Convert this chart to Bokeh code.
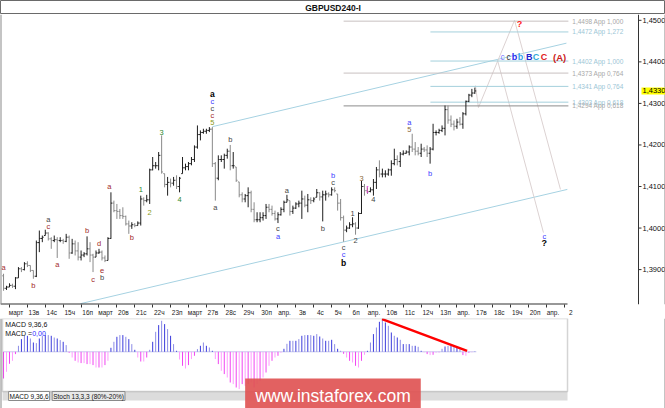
import numpy as np
from bokeh.plotting import figure
from bokeh.layouts import column
from bokeh.models import ColumnDataSource, Range1d, FixedTicker, Label, Span, BoxAnnotation
from bokeh.embed import file_html
from bokeh.resources import INLINE
from bokeh.core.properties import value

FONT = "Liberation Sans"

# ---------------- data ----------------
bar_index = list(range(-2, 157))
highs = [1.3890, 1.3861,
    1.3867, 1.3866, 1.3882, 1.3906, 1.3906, 1.3918, 1.3920, 1.3910, 1.3898, 1.3970,
    1.3994, 1.3982, 1.3996, 1.3990, 1.3978, 1.3982, 1.3978, 1.3978, 1.3974, 1.3986,
    1.3982, 1.3974, 1.3970, 1.3966, 1.3946, 1.3942, 1.3980, 1.3966, 1.3938, 1.3946,
    1.3950, 1.3946, 1.3934, 1.3978, 1.4086, 1.4066, 1.4058, 1.4046, 1.4050, 1.4030,
    1.4018, 1.4014, 1.4012, 1.4016, 1.4078, 1.4074, 1.4080, 1.4143, 1.4171, 1.4159,
    1.4183, 1.4223, 1.4131, 1.4123, 1.4119, 1.4123, 1.4127, 1.4123, 1.4171, 1.4155,
    1.4159, 1.4171, 1.4199, 1.4247, 1.4235, 1.4239, 1.4239, 1.4243, 1.4243, 1.4159,
    1.4175, 1.4175, 1.4179, 1.4191, 1.4200, 1.4183, 1.4147, 1.4111, 1.4086, 1.4082,
    1.4098, 1.4090, 1.4062, 1.4038, 1.4038, 1.4038, 1.4058, 1.4058, 1.4054, 1.4042,
    1.4038, 1.4050, 1.4066, 1.4080, 1.4066, 1.4054, 1.4062, 1.4066, 1.4090, 1.4078,
    1.4082, 1.4074, 1.4074, 1.4094, 1.4086, 1.4090, 1.4090, 1.4086, 1.4098, 1.4098,
    1.4082, 1.4070, 1.4030, 1.4006, 1.4014, 1.4026, 1.4014, 1.4038, 1.4114, 1.4106,
    1.4098, 1.4098, 1.4118, 1.4147, 1.4163, 1.4143, 1.4139, 1.4143, 1.4163, 1.4191,
    1.4175, 1.4183, 1.4187, 1.4187, 1.4199, 1.4227, 1.4207, 1.4195, 1.4203, 1.4195,
    1.4199, 1.4195, 1.4251, 1.4235, 1.4239, 1.4247, 1.4295, 1.4295, 1.4271, 1.4259,
    1.4263, 1.4267, 1.4279, 1.4307, 1.4323, 1.4335, 1.4338]
lows = [1.3849, 1.3851,
    1.3858, 1.3856, 1.3853, 1.3880, 1.3894, 1.3898, 1.3906, 1.3894, 1.3878, 1.3882,
    1.3942, 1.3966, 1.3982, 1.3970, 1.3950, 1.3966, 1.3928, 1.3966, 1.3962, 1.3966,
    1.3926, 1.3938, 1.3934, 1.3922, 1.3922, 1.3930, 1.3934, 1.3918, 1.3894, 1.3930,
    1.3938, 1.3922, 1.3918, 1.3922, 1.3974, 1.4038, 1.4022, 1.4022, 1.4022, 1.4006,
    1.3986, 1.3998, 1.4002, 1.4006, 1.4006, 1.4054, 1.4062, 1.4058, 1.4139, 1.4143,
    1.4139, 1.4131, 1.4098, 1.4078, 1.4098, 1.4102, 1.4094, 1.4086, 1.4131, 1.4139,
    1.4139, 1.4151, 1.4159, 1.4191, 1.4211, 1.4227, 1.4227, 1.4231, 1.4147, 1.4066,
    1.4115, 1.4159, 1.4143, 1.4167, 1.4139, 1.4143, 1.4111, 1.4074, 1.4062, 1.4062,
    1.4050, 1.4038, 1.4014, 1.4014, 1.4014, 1.4018, 1.4022, 1.4038, 1.4030, 1.4018,
    1.4012, 1.4030, 1.4038, 1.4062, 1.4030, 1.4034, 1.4046, 1.4050, 1.4022, 1.4050,
    1.4038, 1.4058, 1.4062, 1.4074, 1.4066, 1.4016, 1.4066, 1.4074, 1.4078, 1.4086,
    1.4042, 1.4018, 1.3967, 1.3990, 1.3998, 1.4002, 1.3984, 1.3998, 1.4034, 1.4078,
    1.4082, 1.4086, 1.4078, 1.4094, 1.4122, 1.4122, 1.4122, 1.4126, 1.4126, 1.4151,
    1.4151, 1.4147, 1.4175, 1.4179, 1.4175, 1.4183, 1.4175, 1.4175, 1.4171, 1.4183,
    1.4171, 1.4155, 1.4187, 1.4223, 1.4227, 1.4231, 1.4223, 1.4251, 1.4243, 1.4235,
    1.4239, 1.4247, 1.4239, 1.4271, 1.4303, 1.4315, 1.4323]
closes = [1.3855, 1.3858,
    1.3862, 1.3860, 1.3880, 1.3902, 1.3900, 1.3914, 1.3910, 1.3898, 1.3884, 1.3965,
    1.3975, 1.3978, 1.3988, 1.3974, 1.3970, 1.3972, 1.3970, 1.3970, 1.3968, 1.3978,
    1.3940, 1.3962, 1.3945, 1.3930, 1.3935, 1.3938, 1.3950, 1.3935, 1.3930, 1.3940,
    1.3942, 1.3928, 1.3922, 1.3975, 1.4060, 1.4042, 1.4040, 1.4030, 1.4028, 1.4010,
    1.4005, 1.4008, 1.4006, 1.4012, 1.4070, 1.4066, 1.4068, 1.4140, 1.4150, 1.4150,
    1.4175, 1.4135, 1.4105, 1.4110, 1.4108, 1.4115, 1.4100, 1.4120, 1.4145, 1.4148,
    1.4155, 1.4165, 1.4195, 1.4225, 1.4230, 1.4233, 1.4235, 1.4238, 1.4155, 1.4120,
    1.4165, 1.4165, 1.4175, 1.4185, 1.4150, 1.4150, 1.4115, 1.4080, 1.4070, 1.4078,
    1.4085, 1.4045, 1.4020, 1.4020, 1.4025, 1.4030, 1.4050, 1.4045, 1.4035, 1.4022,
    1.4032, 1.4045, 1.4062, 1.4068, 1.4040, 1.4048, 1.4058, 1.4060, 1.4070, 1.4055,
    1.4068, 1.4066, 1.4070, 1.4085, 1.4075, 1.4080, 1.4082, 1.4080, 1.4092, 1.4090,
    1.4060, 1.4025, 1.3995, 1.4000, 1.4008, 1.4010, 1.4000, 1.4035, 1.4100, 1.4090,
    1.4088, 1.4092, 1.4110, 1.4140, 1.4130, 1.4130, 1.4130, 1.4140, 1.4155, 1.4165,
    1.4160, 1.4178, 1.4180, 1.4183, 1.4195, 1.4190, 1.4185, 1.4180, 1.4190, 1.4188,
    1.4180, 1.4190, 1.4230, 1.4230, 1.4235, 1.4240, 1.4285, 1.4260, 1.4250, 1.4245,
    1.4255, 1.4250, 1.4275, 1.4305, 1.4320, 1.4325, 1.4330]
first_open = 1.3885

# MACD(9,36,6) histogram, in pips
macd_hist = [-26.7, -20, -12, -9, -2.3, 6, 12.7, 16, 16, 13.3,
    9.3, 8.7, 13.3, 16, 16.7, 16.7, 16, 14.3, 13.3, 11.7,
    10, 6.7, -1, -5.7, -9, -10.7, -11.3, -11.3, -12.3, -12.3,
    -13.3, -15.7, -15.7, -15.7, -13.3, -9, 4, 10, 15, 16.7,
    16.7, 15, 12.7, 7.7, 2, -5.7, -9.7, -9.7, -5.7, 2,
    10, 20, 26.7, 31, 27.7, 22.7, 16, 7.7, 1, -7.7,
    -14, -16.7, -13.3, -7.3, -4, 2.7, 6, 9.3, 6, 4.3,
    1, -7.3, -12.3, -19, -22.3, -25.7, -30.7, -32.3, -35.7, -37.3,
    -32.3, -34, -32.3, -30.7, -35.7, -32.3, -29, -25.7, -20.7, -14,
    -9, -5.7, -4, -1, 3, 8, 11, 11, 11, 12.7,
    16, 16.7, 16.7, 16.7, 16, 17.7, 15.3, 13.3, 11, 11,
    12, 7.7, 3, 1, -2, -5.7, -9, -10.7, -14, -15.7,
    -9, -3, 1, 9.3, 17.7, 24.3, 30, 33, 29.3, 26,
    19.3, 16, 14.3, 12, 7.7, 7.7, 7.7, 6, 6, 5,
    1, -0.5, -2.3, -3.3, -3, -1, -0.5, 3, 5.3, 6,
    6, 5.3, 4.3, 2.7, -3.3, -4, -1, -0.5, 0.3]
macd_trend_i = [124.9, 153.4]
macd_trend_v = [32.6, 1.0]

date_labels = ["март", "13в", "14с", "15ч", "16п", "март", "20в", "21с", "22ч", "23п",
               "март", "27в", "28с", "29ч", "30п", "апр.", "3в", "4с", "5ч", "6п",
               "апр.", "10в", "11с", "12ч", "13п", "апр.", "17в", "18с", "19ч", "20п",
               "апр.", "2"]
bars_per_day = 6
price_ticks = [1.39, 1.40, 1.41, 1.42, 1.43, 1.44, 1.45]
last_price = 1.4330

fib_levels = [1.4498, 1.4472, 1.4402, 1.4373, 1.4341, 1.4303, 1.4294]
fib_ratios = ["1,000", "1,272", "1,000", "0,764", "0,764", "0,618", "0,618"]
fib_groups = ["gray", "blue", "blue", "gray", "blue", "blue", "dark"]

chan_up_i = [68, 186.7]
chan_up_p = [1.4244, 1.4445]
chan_lo_i = [23.8, 187.0]
chan_lo_p = [1.3818, 1.4093]
proj_i = [156.2, 157.2, 169.3, 184.7]
proj_p = [1.4343, 1.4290, 1.4500, 1.4093]
proj2_i = [163.6, 179.0]
proj2_p = [1.4404, 1.3989]

wave_i = [-2, 8, 13, 13, 16, 26, 28, 30, 31, 31, 33.5, 41, 44, 47, 51, 57,
          68, 68, 68, 68, 68, 69, 74, 90, 90, 93, 105, 108.5, 108.5,
          112, 112, 112, 115, 116, 118, 120, 122, 134, 134, 141, 179.3, 179.3, 171,
          165.3, 167.3, 169.3, 171.3, 174.2, 176.5, 179.2, 184.4]
wave_p = [1.3905, 1.3861, 1.4020, 1.4004, 1.3912, 1.3994, 1.3876, 1.3963, 1.3898, 1.3881, 1.4100, 1.3977, 1.4093, 1.4037, 1.4230, 1.4069,
          1.4254, 1.4271, 1.4288, 1.4305, 1.4322, 1.4049, 1.4213, 1.3999, 1.3980, 1.4090, 1.3999, 1.4127, 1.4110,
          1.3953, 1.3936, 1.3917, 1.4035, 1.3970, 1.4119, 1.4095, 1.4069, 1.4254, 1.4237, 1.4131, 1.3980, 1.3963, 1.4490,
          1.4411, 1.4411, 1.4411, 1.4411, 1.4411, 1.4411, 1.4411, 1.4411]
wave_text = ["a", "b", "a", "c", "a", "b", "c", "d", "e", "b", "a", "b", "1", "2", "3", "4",
             "5", "c", "c", "c", "a", "a", "b", "c", "a", "a", "b", "b", "c",
             "c", "c", "b", "1", "2", "3", "[", "4", "a", "5", "b", "c", "?", "?",
             "c", "c", "b", "b", "B", "C", "C", "(A)"]
wave_kind = ["r", "r", "g", "r", "r", "r", "r", "r", "r", "g", "r", "r", "gr", "ol", "gr", "gr",
             "ol", "r", "g", "bl", "bk", "g", "g", "g", "bl", "g", "g", "bl", "g",
             "g", "bl", "bk", "g", "g", "br", "mg", "g", "bl", "br", "bl", "bl", "qb", "q",
             "lb", "dk", "b1", "b2", "B", "C1", "C2", "A"]

# ---------------- styles / layout constants ----------------
kind_style = {
    "r": ("#a32a2a", "7.5px", "normal"), "g": ("#454545", "7.5px", "normal"),
    "gr": ("#2f8a2f", "7.5px", "normal"), "ol": ("#8a9a20", "7.5px", "normal"),
    "bl": ("#4040ff", "7.5px", "normal"), "bk": ("#000000", "8.5px", "bold"),
    "br": ("#8a6a3a", "7.5px", "normal"), "mg": ("#e020e0", "8px", "normal"),
    "lb": ("#8080ff", "8.5px", "normal"), "dk": ("#333333", "8.5px", "normal"),
    "b1": ("#2a2af0", "9px", "bold"), "b2": ("#30a0e8", "9px", "bold"),
    "B": ("#2222cc", "9px", "bold"), "C1": ("#30a8d8", "9px", "bold"),
    "C2": ("#e02020", "9px", "bold"), "A": ("#cc2020", "9.5px", "bold"),
    "q": ("#ff2020", "9px", "bold"), "qb": ("#000000", "9px", "bold"),
}
fib_style = {"gray": ("#c8c0c0", "#a8a8a8", 112.0), "blue": ("#a4d0dc", "#9cc6d6", 141.1),
             "dark": ("#8c8c8c", "#a8a8a8", 112.0)}

W = 665
X0, X1 = -3.017, 219.91          # whole width, in bar-index units
Y0, Y1 = 1.3816, 1.4514          # main frame price range
AXIS_X = 210.86                  # price axis line
AXIS_END = 187.06                # end of date axis / MACD panel
PANEL_L = -2.35
BORDER = "#8a8a8a"

# ---------------- title bar ----------------
tfig = figure(frame_width=W, frame_height=14, x_range=Range1d(0, 1), y_range=Range1d(0, 1),
              x_axis_location=None, y_axis_location=None, toolbar_location=None,
              output_backend="svg", min_border=0)
tfig.grid.visible = False
tfig.outline_line_color = "#6a6a6a"
tfig.add_layout(Label(x=0.5, y=0.5, text="GBPUSD240-I", text_align="center", text_baseline="middle",
                      text_font=FONT, text_font_size="8.5px", text_font_style="bold", text_color="#111111"))

# ---------------- main chart ----------------
p = figure(frame_width=W, frame_height=290, x_range=Range1d(X0, X1), y_range=Range1d(Y0, Y1),
           toolbar_location=None, output_backend="svg", y_axis_location=None,
           min_border_left=0, min_border_top=0, min_border_bottom=12, min_border_right=0)
p.grid.visible = False
p.outline_line_color = None
p.add_layout(Span(location=X0, dimension="height", line_color=BORDER, line_width=2))
p.add_layout(Span(location=X1, dimension="height", line_color=BORDER, line_width=2))

opens = []
prev = first_open
for h, l, c in zip(highs, lows, closes):
    opens.append(min(max(prev, l), h))
    prev = c
colors = ["#1e1e1e" if c >= o else "#8a8a8a" for o, c in zip(opens, closes)]
x = np.array(bar_index, dtype=float)
src = ColumnDataSource(dict(x=x, xl=x - 0.45, xr=x + 0.45, h=highs, l=lows, o=opens, c=closes, col=colors))

# channel lines and projections
p.line(chan_up_i, chan_up_p, line_color="#a6d2e2", line_width=1)
p.line(chan_lo_i, chan_lo_p, line_color="#a6d2e2", line_width=1)
p.line(proj_i, proj_p, line_color="#dcd2d2", line_width=1)
p.line(proj2_i, proj2_p, line_color="#dcd2d2", line_width=1)

# fib levels
fsrc = ColumnDataSource(dict(
    x0=[fib_style[g][2] for g in fib_groups], x1=[AXIS_END + 0.3] * len(fib_levels), y=fib_levels,
    lc=[fib_style[g][0] for g in fib_groups], tc=[fib_style[g][1] for g in fib_groups],
    tx=[AXIS_END + 1.6] * len(fib_levels),
    t=[f"{v:.4f}".replace(".", ",") + " App " + r for v, r in zip(fib_levels, fib_ratios)]))
p.segment(x0="x0", y0="y", x1="x1", y1="y", line_color="lc", line_width=1, source=fsrc)
p.text(x="tx", y="y", text="t", text_color="tc", text_font=value(FONT), text_font_size="6.5px",
       text_baseline="middle", text_align="left", source=fsrc)

# OHLC bars
p.segment(x0="x", y0="l", x1="x", y1="h", line_color="col", line_width=1, source=src)
p.segment(x0="xl", y0="o", x1="x", y1="o", line_color="col", line_width=1, source=src)
p.segment(x0="x", y0="c", x1="xr", y1="c", line_color="col", line_width=1, source=src)

# wave labels
wsrc = ColumnDataSource(dict(x=wave_i, y=wave_p, t=wave_text,
                             col=[kind_style[k][0] for k in wave_kind],
                             fs=[kind_style[k][1] for k in wave_kind],
                             st=[kind_style[k][2] for k in wave_kind]))
p.text(x="x", y="y", text="t", text_color="col", text_font_size="fs", text_font_style="st",
       text_font=value(FONT), text_align="center", text_baseline="middle", source=wsrc)

# price scale on the right (inside the drawing area, as in the terminal)
p.add_layout(Span(location=AXIS_X, dimension="height", line_color="#333333", line_width=1))
psrc = ColumnDataSource(dict(x0=[AXIS_X] * len(price_ticks), x1=[AXIS_X + 1.0] * len(price_ticks),
                             tx=[AXIS_X + 1.3] * len(price_ticks), y=price_ticks,
                             t=[f"{t:.4f}".replace(".", ",") for t in price_ticks]))
p.segment(x0="x0", y0="y", x1="x1", y1="y", line_color="#333333", line_width=1, source=psrc)
p.text(x="tx", y="y", text="t", text_font=value(FONT), text_font_size="7.5px", text_color="#111111",
       text_align="left", text_baseline="middle", source=psrc)
p.add_layout(Label(x=AXIS_X + 1.0, y=last_price, text=f"{last_price:.4f}".replace(".", ","),
                   text_baseline="middle", text_font=FONT, text_font_size="7.5px", text_color="#000000",
                   background_fill_color="#ffff00", padding=1))

# bottom date axis
p.segment(x0=[X0], y0=[Y0], x1=[AXIS_END], y1=[Y0], line_color="#333333", line_width=2)
day_ticks = [bars_per_day * k for k in range(len(date_labels))]
label_pos = [t + 2.2 for t in day_ticks]
xa = p.xaxis[0]
xa.ticker = FixedTicker(ticks=label_pos, minor_ticks=day_ticks)
xa.major_label_overrides = {lp: lab for lp, lab in zip(label_pos, date_labels)}
xa.major_tick_out = 0
xa.major_tick_in = 0
xa.minor_tick_out = 3
xa.minor_tick_in = 0
xa.minor_tick_line_color = "#333333"
xa.axis_line_color = None
xa.major_label_standoff = 1
xa.major_label_text_font = FONT
xa.major_label_text_font_size = "6.5px"
xa.major_label_text_color = "#222222"

# ---------------- MACD panel ----------------
ZERO_TOP, ZERO_BOTTOM = 33.3, -58.7       # frame extent around the zero line
PANEL_B, STRIP_B = -39.7, -48.7
m = figure(frame_width=W, frame_height=92, x_range=p.x_range, y_range=Range1d(ZERO_BOTTOM, ZERO_TOP),
           x_axis_location=None, y_axis_location=None, toolbar_location=None, output_backend="svg",
           min_border=0)
m.grid.visible = False
m.outline_line_color = None
m.add_layout(Span(location=X0, dimension="height", line_color=BORDER, line_width=2))
m.add_layout(Span(location=X1, dimension="height", line_color=BORDER, line_width=2))
m.add_layout(Span(location=ZERO_BOTTOM, dimension="width", line_color=BORDER, line_width=2))
m.add_layout(BoxAnnotation(left=PANEL_L, right=AXIS_END, top=PANEL_B, bottom=STRIP_B,
                           fill_color="#dcdcdc", fill_alpha=1, line_color=None))
m.add_layout(BoxAnnotation(left=PANEL_L, right=AXIS_END, top=ZERO_TOP, bottom=PANEL_B,
                           fill_alpha=0, line_color="#707070", line_width=1.5))

hcol = []
for k, v in enumerate(macd_hist):
    if v >= 0:
        hcol.append("#3a3adc" if k % 2 == 0 else "#8c8ce6")
    else:
        hcol.append("#f044f0" if k % 2 == 0 else "#ff9cff")
msrc = ColumnDataSource(dict(x=x, v=macd_hist, z=[0.0] * len(macd_hist), col=hcol))
m.line([bar_index[0], bar_index[-1] + 0.5], [0, 0], line_color="#c8c8ee", line_width=1)
m.segment(x0="x", y0="z", x1="x", y1="v", line_color="col", line_width=1, source=msrc)
m.line(macd_trend_i, macd_trend_v, line_color="#ff0000", line_width=2.5)
m.add_layout(Label(x=-1.4, y=27.8, text="MACD 9,36,6", text_baseline="middle",
                   text_font=FONT, text_font_size="7px", text_color="#111111"))
m.add_layout(Label(x=-1.4, y=18.8, text="MACD =", text_baseline="middle",
                   text_font=FONT, text_font_size="7px", text_color="#111111"))
m.add_layout(Label(x=7.6, y=18.8, text="0,00", text_baseline="middle",
                   text_font=FONT, text_font_size="7px", text_color="#2a2aff"))
# indicator tabs
m.add_layout(Label(x=-0.3, y=-44.2, text="MACD 9,36,6", text_baseline="middle",
                   text_font=FONT, text_font_size="6.5px", text_color="#111111",
                   background_fill_color="#ffffff", border_line_color="#8a8a8a", padding=1))
m.add_layout(Label(x=14.3, y=-44.2, text="Stoch 13,3,3 (80%-20%)", text_baseline="middle",
                   text_font=FONT, text_font_size="6.5px", text_color="#111111",
                   background_fill_color="#e8e8e8", border_line_color="#8a8a8a", padding=1))
# watermark
m.add_layout(Label(x=79.0, y=-43.7, text="www.instaforex.com", text_baseline="middle",
                   text_font=FONT, text_font_size="17.5px", text_color="#ffffff",
                   background_fill_color="#e05454", background_fill_alpha=0.92, padding=(10, 7)))

layout = column(tfig, p, m, spacing=0)
open("out.html", "w").write(file_html(layout, INLINE))
